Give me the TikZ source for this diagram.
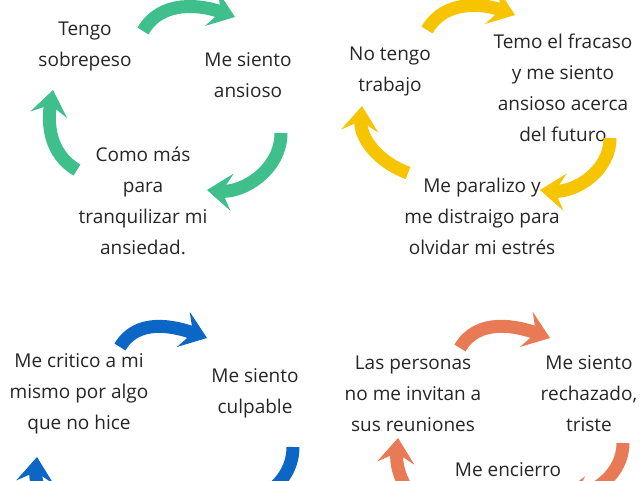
\documentclass[tikz,border=0pt]{standalone}
\usepackage{fontspec}
\setmainfont{Open Sans}
\usetikzlibrary{arrows.meta}
\definecolor{cycgreen}{HTML}{3FBF8C}
\definecolor{cycyellow}{HTML}{F6C500}
\definecolor{cycblue}{HTML}{0B66C6}
\definecolor{cycorange}{HTML}{E87A55}
\begin{document}
\begin{tikzpicture}[x=1pt,y=1pt,
  txt/.style={align=center, font=\fontsize{19}{31}\selectfont, text=black!85, inner sep=0pt},
  cyc/.style={line width=13pt, -{Stealth[length=25pt,width=37pt,inset=10pt]}}]
\useasboundingbox (0,0) rectangle (640,-480);
\clip (0,0) rectangle (640,-480);
\fill[white] (0,0) rectangle (640,-480);
% green cycle
\node[txt] (gA) at (85,-46) {Tengo\\sobrepeso};
\node[txt] (gB) at (248,-75) {Me siento\\ansioso};
\node[txt] (gC) at (143,-201) {Como más\\para\\tranquilizar mi\\ansiedad.};
\coordinate (g1) at (143,-31); \coordinate (g2) at (235,-17);
\coordinate (g3) at (281,-133); \coordinate (g4) at (207,-190);
\coordinate (g5) at (77,-170); \coordinate (g6) at (53,-90);
\draw[cyc, cycgreen] (g1) to[out=60,in=160] (g2);
\draw[cyc, cycgreen] (g3) to[out=-90,in=-5] (g4);
\draw[cyc, cycgreen] (g5) to[out=150,in=-100] (g6);
% yellow cycle
\node[txt] (yA) at (390,-71) {No tengo\\trabajo};
\node[txt] (yB) at (563,-88) {Temo el fracaso\\y me siento\\ansioso acerca\\del futuro};
\node[txt] (yC) at (482,-216) {Me paralizo y\\me distraigo para\\olvidar mi estrés};
\coordinate (y1) at (427,-30); \coordinate (y2) at (515,-15);
\coordinate (y3) at (610,-138); \coordinate (y4) at (540,-190);
\coordinate (y5) at (408,-173); \coordinate (y6) at (362,-106);
\draw[cyc, cycyellow] (y1) to[out=60,in=160] (y2);
\draw[cyc, cycyellow] (y3) to[out=-90,in=-5] (y4);
\draw[cyc, cycyellow] (y5) to[out=160,in=-95] (y6);
% blue cycle
\node[txt] (bA) at (79,-394) {Me critico a mi\\mismo por algo\\que no hice};
\node[txt] (bB) at (255,-393) {Me siento\\culpable};
\coordinate (b1) at (120,-347); \coordinate (b2) at (207,-338);
\coordinate (b3) at (293,-447); \coordinate (b4) at (220,-505);
\coordinate (b5) at (80,-530); \coordinate (b6) at (37,-457);
\draw[cyc, cycblue] (b1) to[out=60,in=160] (b2);
\draw[cyc, cycblue] (b3) to[out=-90,in=0] (b4);
\draw[cyc, cycblue] (b5) to[out=150,in=-95] (b6);
% orange cycle
\node[txt] (oA) at (413,-394) {Las personas\\no me invitan a\\sus reuniones};
\node[txt] (oB) at (589,-394) {Me siento\\rechazado,\\triste};
\node[txt, anchor=north] (oC) at (508,-462) {Me encierro};
\coordinate (o1) at (460,-348); \coordinate (o2) at (550,-338);
\coordinate (o3) at (623,-443); \coordinate (o4) at (560,-495);
\coordinate (o5) at (440,-520); \coordinate (o6) at (398,-438);
\draw[cyc, cycorange] (o1) to[out=60,in=160] (o2);
\draw[cyc, cycorange] (o3) to[out=-90,in=0] (o4);
\draw[cyc, cycorange] (o5) to[out=150,in=-95] (o6);
\end{tikzpicture}
\end{document}
